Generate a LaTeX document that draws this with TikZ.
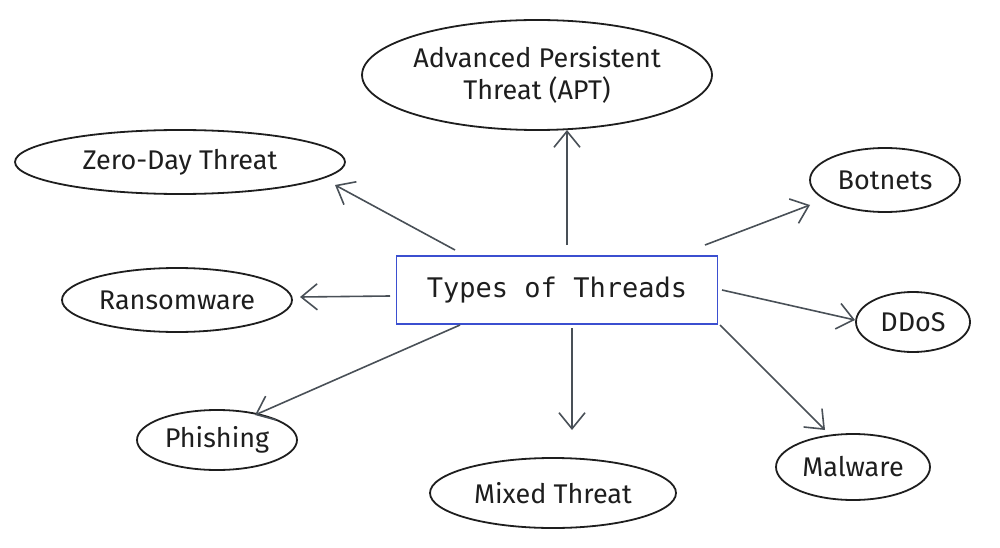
\documentclass[tikz,border=0pt]{standalone}
\usepackage{fontspec}
\setmainfont{Fira Sans}
\newfontfamily\monof{DejaVu Sans Mono}
\usetikzlibrary{arrows.meta,shapes.geometric}
\definecolor{ink}{HTML}{1E1E1E}
\definecolor{arr}{HTML}{495057}
\definecolor{bl}{HTML}{3B4FD0}
\begin{document}
\begin{tikzpicture}[x=1pt,y=-1pt,
  oval/.style={ellipse,draw=ink,line width=1.8pt,inner sep=0pt,font=\fontsize{27}{32}\selectfont,text=ink,align=center},
  arrw/.style={draw=arr,line width=1.6pt,-{Straight Barb[length=16pt,width=26pt]}}]
\useasboundingbox (0,0) rectangle (1000,548);
\node[draw=bl,line width=1.4pt,minimum width=321pt,minimum height=68pt,font=\monof\fontsize{27}{32}\selectfont,text=ink] (c) at (557,290) {Types of Threads};
\node[oval,minimum width=318pt,minimum height=110pt] (apt) at (537,75) {Advanced Persistent\\Threat (APT)};
\node[oval,minimum width=330pt,minimum height=64pt] (z) at (180,162) {Zero-Day Threat};
\node[oval,minimum width=150pt,minimum height=64pt] (b) at (885,180) {Botnets};
\node[oval,minimum width=230pt,minimum height=64pt] (r) at (177,300) {Ransomware};
\node[oval,minimum width=114pt,minimum height=60pt] (d) at (913,322) {DDoS};
\node[oval,minimum width=160pt,minimum height=60pt] (p) at (217,440) {Phishing};
\node[oval,minimum width=246pt,minimum height=70pt] (m) at (553,493) {Mixed Threat};
\node[oval,minimum width=154pt,minimum height=66pt] (w) at (853,467) {Malware};
\coordinate (cz) at (455,250); \coordinate (za) at (335,185);
\coordinate (ca) at (567,245); \coordinate (aa) at (567,130);
\coordinate (cb) at (705,245); \coordinate (ba) at (810,205);
\coordinate (cr) at (390,296); \coordinate (ra) at (300,297);
\coordinate (cd) at (722,290); \coordinate (da) at (855,320);
\coordinate (cp) at (460,325); \coordinate (pa) at (255,415);
\coordinate (cm) at (572,328); \coordinate (ma) at (572,430);
\coordinate (cw) at (720,325); \coordinate (wa) at (825,430);
\draw[arrw] (cz) -- (za);
\draw[arrw] (ca) -- (aa);
\draw[arrw] (cb) -- (ba);
\draw[arrw] (cr) -- (ra);
\draw[arrw] (cd) -- (da);
\draw[arrw] (cp) -- (pa);
\draw[arrw] (cm) -- (ma);
\draw[arrw] (cw) -- (wa);
\end{tikzpicture}
\end{document}
